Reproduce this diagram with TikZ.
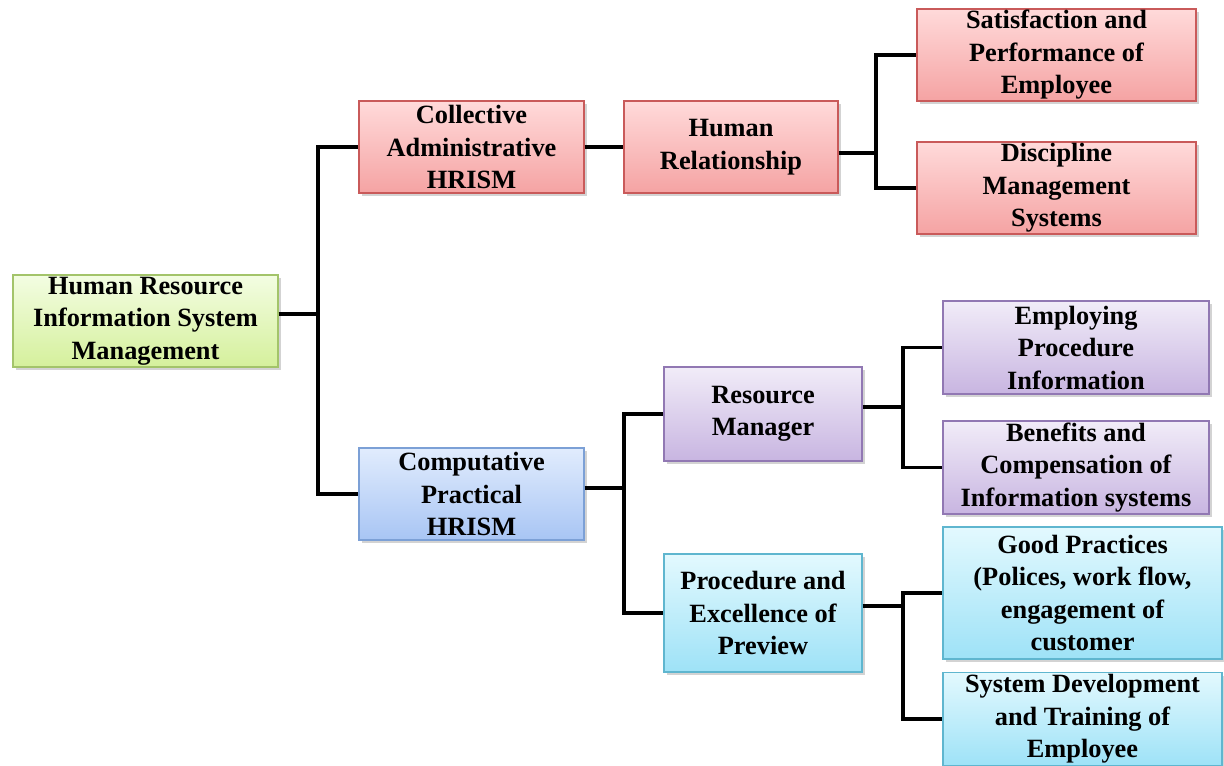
\documentclass[tikz,border=0pt]{standalone}
\usepackage{fontspec}
\setmainfont{Liberation Serif}
\usetikzlibrary{shadows}
\definecolor{redtop}{HTML}{FFDADA}
\definecolor{redbot}{HTML}{F5A3A3}
\definecolor{redline}{HTML}{C95A5A}
\definecolor{greentop}{HTML}{F3FDE2}
\definecolor{greenbot}{HTML}{D5F09C}
\definecolor{greenline}{HTML}{A3C46A}
\definecolor{bluetop}{HTML}{E1ECFD}
\definecolor{bluebot}{HTML}{A8C5F4}
\definecolor{blueline}{HTML}{7CA0D6}
\definecolor{purpletop}{HTML}{F1ECF8}
\definecolor{purplebot}{HTML}{C8B5E1}
\definecolor{purpleline}{HTML}{9178B3}
\definecolor{cyantop}{HTML}{E3F9FE}
\definecolor{cyanbot}{HTML}{9EE2F7}
\definecolor{cyanline}{HTML}{5FB6CF}
\tikzset{
  box/.style={draw, line width=0.8pt, align=center, inner sep=0pt,
    font=\fontsize{15}{18.5}\selectfont\bfseries,
    drop shadow={opacity=0.35, shadow xshift=0.06cm, shadow yshift=-0.06cm}},
  redbox/.style={box, draw=redline, top color=redtop, bottom color=redbot},
  greenbox/.style={box, draw=greenline, top color=greentop, bottom color=greenbot},
  bluebox/.style={box, draw=blueline, top color=bluetop, bottom color=bluebot},
  purplebox/.style={box, draw=purpleline, top color=purpletop, bottom color=purplebot},
  cyanbox/.style={box, draw=cyanline, top color=cyantop, bottom color=cyanbot},
  link/.style={line width=2pt}
}
\begin{document}
\begin{tikzpicture}[x=0.02cm, y=-0.02cm]
        \useasboundingbox (0,0) rectangle (1224,766);
        \clip (0,0) rectangle (1224,766);

        % raiz
        \node[greenbox, minimum width=5.3cm, minimum height=1.84cm] (root) at (145.5,321) {Human Resource\\Information System\\Management};

        % primer nivel
        \node[redbox, minimum width=4.5cm, minimum height=1.84cm] (CA) at (471.5,147) {Collective\\Administrative\\HRISM};
        \node[bluebox, minimum width=4.5cm, minimum height=1.84cm] (CP) at (471.5,494) {Computative\\Practical\\HRISM};

        % segundo nivel
        \node[redbox, minimum width=4.28cm, minimum height=1.84cm] (HR) at (731,147) {Human\\Relationship};
        \node[purplebox, minimum width=3.96cm, minimum height=1.88cm] (RM) at (763,414) {Resource\\Manager};
        \node[cyanbox, minimum width=3.96cm, minimum height=2.36cm] (PE) at (763,613) {Procedure and\\Excellence of\\Preview};

        % hojas
        \node[redbox, minimum width=5.58cm, minimum height=1.84cm] (SP) at (1056.5,55) {Satisfaction and\\Performance of\\Employee};
        \node[redbox, minimum width=5.58cm, minimum height=1.84cm] (DM) at (1056.5,188) {Discipline\\Management\\Systems};
        \node[purplebox, minimum width=5.32cm, minimum height=1.86cm] (EP) at (1076,347.5) {Employing\\Procedure\\Information};
        \node[purplebox, minimum width=5.32cm, minimum height=1.86cm] (BC) at (1076,467.5) {Benefits and\\Compensation of\\Information systems};
        \node[cyanbox, minimum width=5.58cm, minimum height=2.64cm] (GP) at (1082.5,593) {Good Practices\\(Polices, work flow,\\engagement of\\customer};
        \node[cyanbox, minimum width=5.58cm, minimum height=1.86cm] (SD) at (1082.5,719) {System Development\\and Training of\\Employee};

        % conexiones
        \coordinate (b1) at (318,314);
        \draw[link] (root.east |- b1) -- (b1);
        \draw[link] (b1) |- (CA.west);
        \draw[link] (b1) |- (CP.west);

        \draw[link] (CA.east) -- (HR.west);

        \coordinate (b2) at (876,153);
        \draw[link] (HR.east |- b2) -- (b2);
        \draw[link] (b2) |- (SP.west);
        \draw[link] (b2) |- (DM.west);

        \coordinate (b3) at (624,488);
        \draw[link] (CP.east |- b3) -- (b3);
        \draw[link] (b3) |- (RM.west);
        \draw[link] (b3) |- (PE.west);

        \coordinate (b4) at (903,407);
        \draw[link] (RM.east |- b4) -- (b4);
        \draw[link] (b4) |- (EP.west);
        \draw[link] (b4) |- (BC.west);

        \coordinate (b5) at (903,606);
        \draw[link] (PE.east |- b5) -- (b5);
        \draw[link] (b5) |- (GP.west);
        \draw[link] (b5) |- (SD.west);
\end{tikzpicture}
\end{document}
